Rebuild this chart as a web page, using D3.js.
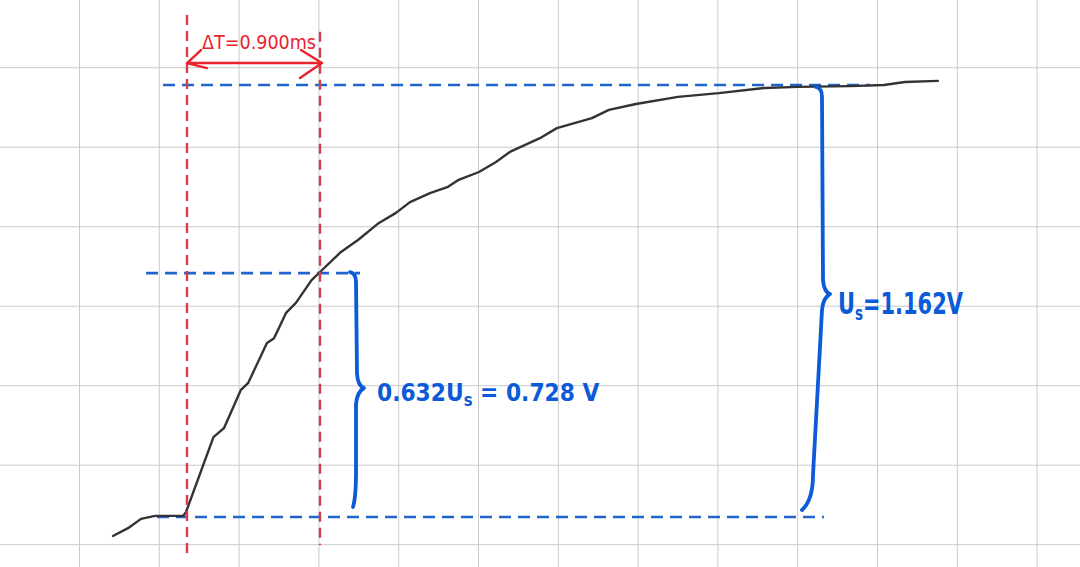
<!DOCTYPE html>
<html><head><meta charset="utf-8">
<script src="https://cdn.jsdelivr.net/npm/d3@7"></script>
<style>html,body{margin:0;padding:0;background:#fff}svg{display:block}text{white-space:pre}</style>
</head><body>
<svg id="c" width="1080" height="567"></svg>
<script>
// ---- data (time in ms, voltage in V) ----
const timeMs = [-0.501,-0.399,-0.311,-0.217,-0.027,-0.007,0.179,0.250,0.365,0.413,0.541,0.589,0.670,0.737,0.843,0.900,1.042,1.157,1.299,1.414,1.509,1.644,1.766,1.834,1.976,2.091,2.185,2.388,2.503,2.740,2.855,3.038,3.322,3.599,3.904,4.134,4.486,4.716,4.858,5.081];
const voltV  = [-0.051,-0.030,-0.005,0.003,0.003,0.013,0.215,0.239,0.342,0.360,0.468,0.481,0.549,0.576,0.637,0.659,0.713,0.745,0.791,0.818,0.847,0.871,0.888,0.906,0.928,0.955,0.982,1.019,1.046,1.073,1.095,1.111,1.130,1.140,1.154,1.157,1.159,1.162,1.170,1.173];
const tauMarks = [0, 0.9];                 // red dashed verticals (ms)
const tauExtentV = [[-0.108, 1.350], [-0.075, 1.305]];
const levelV = [0, 0.656, 1.162];          // blue dashed levels (V)
const levelExtentMs = [[-0.203, 4.310], [-0.277, 1.171], [-0.162, 4.622]];
const gridCols = d3.range(1, 14);
const gridRows = d3.range(0, 7);
const labelTau = "ΔT=0.900ms";
const labelMid = ["0.632U", "s", " = 0.728 V"];
const labelUs = ["U", "s", "=1.162V"];

// ---- scales ----
const svg = d3.select("#c");
const x = d3.scaleLinear().domain([0, 0.9]).range([187, 320]);
const y = d3.scaleLinear().domain([0, 1.162]).range([517, 85]);
const gx = d3.scaleLinear().domain([0, 1]).range([-0.3, 79.5]);
const gy = d3.scaleLinear().domain([0, 1]).range([67.7, 147.2]);

// grid paper
svg.append("g").selectAll("line").data(gridCols).join("line")
  .attr("x1", d => gx(d)).attr("x2", d => gx(d)).attr("y1", 0).attr("y2", 567)
  .attr("stroke", "#cacaca").attr("stroke-width", 1);
svg.append("g").selectAll("line").data(gridRows).join("line")
  .attr("y1", d => gy(d)).attr("y2", d => gy(d)).attr("x1", 0).attr("x2", 1080)
  .attr("stroke", "#cacaca").attr("stroke-width", 1);

// blue dashed levels
svg.append("g").selectAll("line").data(levelV).join("line")
  .attr("x1", (d, i) => x(levelExtentMs[i][0])).attr("x2", (d, i) => x(levelExtentMs[i][1]))
  .attr("y1", d => y(d)).attr("y2", d => y(d))
  .attr("stroke", "#1f63cc").attr("stroke-width", 2.6).attr("stroke-dasharray", "12,7");

// curve
const pts = timeMs.map((t, i) => [t, voltV[i]]);
svg.append("path").datum(pts)
  .attr("d", d3.line().x(d => x(d[0])).y(d => y(d[1])).curve(d3.curveLinear))
  .attr("fill", "none").attr("stroke", "#333").attr("stroke-width", 2.4)
  .attr("stroke-linejoin", "round").attr("stroke-linecap", "round");

// red dashed verticals
svg.append("g").selectAll("line").data(tauMarks).join("line")
  .attr("x1", d => x(d)).attr("x2", d => x(d))
  .attr("y1", (d, i) => y(tauExtentV[i][1])).attr("y2", (d, i) => y(tauExtentV[i][0]))
  .attr("stroke", "#d2404e").attr("stroke-width", 2.4).attr("stroke-dasharray", "10,6");

// red double arrow
const ay = y(1.221), ax0 = x(tauMarks[0]), ax1 = x(tauMarks[1]) + 2;
const red = "#e8232d";
const arrow = d3.path();
arrow.moveTo(ax0, ay); arrow.lineTo(ax1, ay);
arrow.moveTo(ax0 + 14, ay - 13); arrow.lineTo(ax0, ay); arrow.lineTo(ax0 + 20, ay + 5);
arrow.moveTo(ax1 - 21, ay - 13); arrow.lineTo(ax1, ay); arrow.lineTo(ax1 - 22, ay + 15);
svg.append("path").attr("d", arrow.toString()).attr("fill", "none")
  .attr("stroke", red).attr("stroke-width", 2.4).attr("stroke-linecap", "round").attr("stroke-linejoin", "round");
svg.append("text").attr("x", ax0 + 15).attr("y", ay - 14)
  .attr("font-family", "'DejaVu Sans Condensed','Liberation Sans Narrow',sans-serif")
  .attr("font-size", 19).attr("fill", red)
  .attr("textLength", 114).attr("lengthAdjust", "spacingAndGlyphs")
  .text(labelTau);

// braces
const blue = "#0b5ad8";
function brace(xt, yt, xm, ym, xl, xb, yb) {
  const p = d3.path();
  p.moveTo(xt - 5, yt - 1);
  p.quadraticCurveTo(xt + 1, yt, xt + 1, yt + 9);
  p.lineTo(xm - 5, ym - 14);
  p.quadraticCurveTo(xm - 4, ym - 2, xm + 2, ym);
  p.quadraticCurveTo(xm - 5, ym + 4, xm - 6, ym + 16);
  p.lineTo(xl, yb - 35);
  p.quadraticCurveTo(xl, yb - 10, xb, yb);
  return p.toString();
}
svg.append("path")
  .attr("d", brace(355, y(levelV[1]), 362, 388, 356, 353, 507))
  .attr("fill", "none").attr("stroke", blue).attr("stroke-width", 3.8)
  .attr("stroke-linecap", "round").attr("stroke-linejoin", "round");
svg.append("path")
  .attr("d", brace(821, 88, 828, 294, 813, 802, 510))
  .attr("fill", "none").attr("stroke", blue).attr("stroke-width", 3.8)
  .attr("stroke-linecap", "round").attr("stroke-linejoin", "round");

// blue labels: pieces placed one after another, group squeezed horizontally
function label(parts, tx, ty, sx, size, subSize) {
  const g = svg.append("g").attr("transform", `translate(${tx},${ty}) scale(${sx},1)`);
  let cx = 0;
  parts.forEach((s, i) => {
    const sub = i === 1;
    const t = g.append("text").attr("x", cx).attr("y", sub ? size * 0.2 : 0)
      .attr("xml:space", "preserve")
      .attr("font-family", "'DejaVu Sans Condensed','Liberation Sans Narrow',sans-serif")
      .attr("font-weight", "bold").attr("font-size", sub ? subSize : size)
      .attr("fill", blue).text(s);
    cx += t.node().getComputedTextLength();
  });
  return cx;
}
label(labelMid, 377, 401, 0.97, 25, 17);
label(labelUs, 838, 314, 0.75, 31, 20);
</script>
</body></html>
